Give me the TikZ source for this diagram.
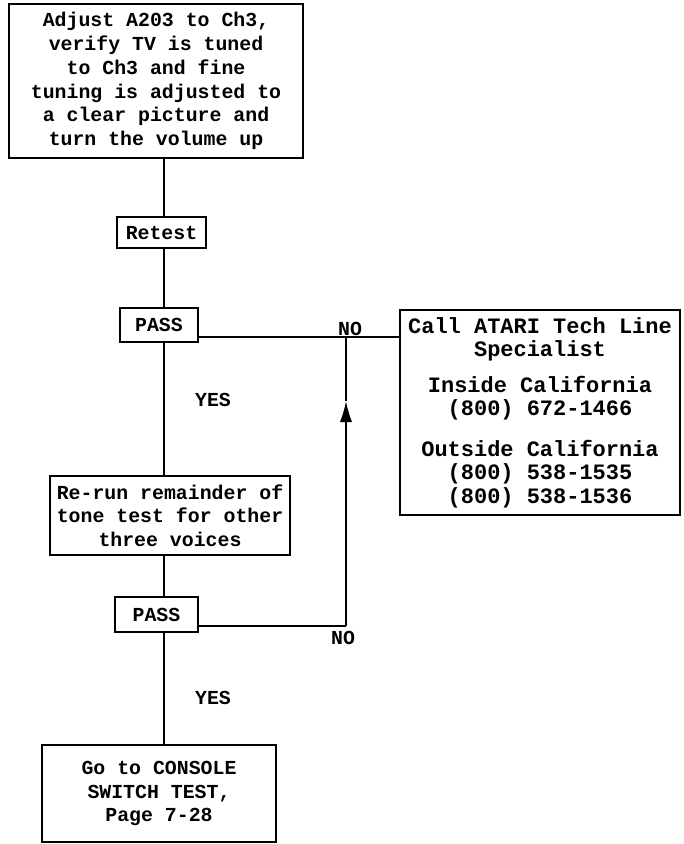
\documentclass[tikz,border=0pt]{standalone}
\usepackage{fontspec}
\setmonofont{Liberation Mono}
\usetikzlibrary{arrows.meta}
\tikzset{
  box/.style ={draw, line width=1.5pt, align=center, inner sep=2pt,
               font=\ttfamily\bfseries\fontsize{11.3}{13.5}\selectfont},
  lab/.style ={font=\ttfamily\bfseries\fontsize{11.3}{13.5}\selectfont, inner sep=1pt},
  ln/.style  ={line width=1pt},
  ptr/.style ={line width=1pt, -{Latex[length=12pt,width=7pt]}},
}
\begin{document}
\begin{tikzpicture}
  \useasboundingbox (0,0) rectangle (13.68,-16.88);
  \coordinate (trunk) at (3.28,0);
  % boxes
  \node[box,minimum width=5.88cm,minimum height=3.08cm] (adj) at (3.12,-1.62)
    {Adjust A203 to Ch3,\\verify TV is tuned\\to Ch3 and fine\\tuning is adjusted to\\a clear picture and\\turn the volume up};
  \node[box,minimum width=1.78cm,minimum height=0.62cm] (retest) at (3.23,-4.65) {Retest};
  \node[box,minimum width=1.56cm,minimum height=0.68cm] (pass1) at (3.18,-6.5) {PASS};
  \node[box,minimum width=5.6cm,minimum height=4.1cm,
        font=\ttfamily\bfseries\fontsize{12.5}{13.3}\selectfont] (call) at (10.8,-8.25)
    {Call ATARI Tech Line\\Specialist\\[7pt]Inside California\\(800) 672-1466\\[10pt]Outside California\\(800) 538-1535\\(800) 538-1536};
  \node[box,minimum width=4.8cm,minimum height=1.58cm] (rerun) at (3.4,-10.31)
    {Re-run remainder of\\tone test for other\\three voices};
  \node[box,minimum width=1.66cm,minimum height=0.7cm] (pass2) at (3.13,-12.29) {PASS};
  \node[box,minimum width=4.68cm,minimum height=1.94cm] (console) at (3.18,-15.87)
    {Go to CONSOLE\\SWITCH TEST,\\Page 7-28};
  % main line
  \draw[ln] (adj.south -| trunk) -- (retest.north -| trunk);
  \draw[ln] (retest.south -| trunk) -- (pass1.north -| trunk);
  \draw[ln] (pass1.south -| trunk) -- (rerun.north -| trunk);
  \draw[ln] (rerun.south -| trunk) -- (pass2.north -| trunk);
  \draw[ln] (pass2.south -| trunk) -- (console.north -| trunk);
  % NO branches
  \coordinate (nojoin) at (6.92,-6.74);
  \coordinate (loop) at (6.92,-12.52);
  \coordinate (tip) at (6.92,-8.02);
  \draw[ln] (pass1.east |- nojoin) -- (call.west |- nojoin);
  \draw[ln] (pass2.east |- loop) -- (loop);
  \draw[ptr] (loop) -- (tip);
  \draw[ln] (tip) -- (nojoin);
  % labels
  \node[lab] (no1) at (7.0,-6.58) {NO};
  \node[lab] (yes1) at (4.26,-8.0) {YES};
  \node[lab] (no2) at (6.86,-12.76) {NO};
  \node[lab] (yes2) at (4.26,-13.96) {YES};
\end{tikzpicture}
\end{document}
